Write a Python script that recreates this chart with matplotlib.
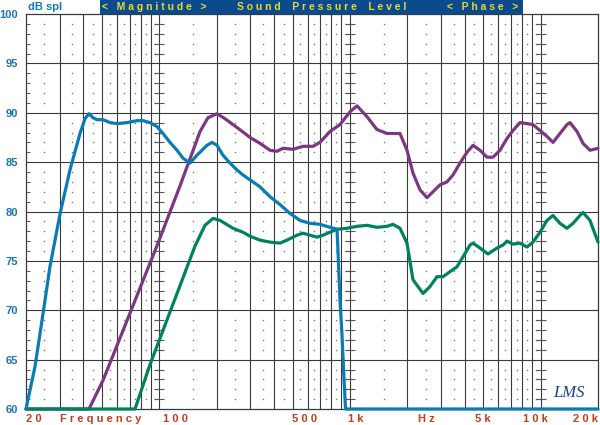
import matplotlib
matplotlib.use("Agg")
import matplotlib.pyplot as plt
from matplotlib.patches import Rectangle

# ---------------- data ----------------
woofer_f = [20, 22.3, 24.9, 26.7, 30.2, 34.0, 38.4, 40.8, 42.8, 44.9, 47.1, 50.7,
            55.2, 60.0, 67.7, 76.4, 82.2, 89.4, 97.3, 104.6, 113.8, 123.9, 133.2,
            144.9, 157.7, 177.9, 189.0, 200.8, 215.8, 235.0, 255.8, 274.9, 299.1,
            337.5, 380.8, 429.8, 484.9, 547.0, 617.3, 696.6, 786.0, 855.4, 865.7,
            887.0, 908.6, 930.9, 947.8, 20000]
woofer_db = [60, 64.3, 70.4, 74.4, 79.8, 84.2, 87.9, 89.4, 89.9, 89.5, 89.3, 89.3,
             89.0, 88.9, 89.0, 89.2, 89.2, 89.0, 88.6, 87.9, 87.0, 86.2, 85.4,
             84.9, 85.7, 86.7, 87.0, 86.7, 85.7, 84.9, 84.2, 83.7, 83.2,
             82.5, 81.5, 80.7, 79.8, 79.1, 78.8, 78.7, 78.4, 78.2, 76.0,
             71.0, 67.5, 63.0, 60.0, 60.0]

mid_f = [20, 42.8, 50.7, 70.2, 98.5, 128.5, 163.6, 180.1, 200.8, 221.1, 243.6,
         268.4, 299.1, 337.5, 380.8, 414.5, 445.7, 502.7, 567.4, 640.2, 696.6,
         786.0, 887.0, 1000.8, 1089, 1228.8, 1386.6, 1564.6, 1830, 1991.8, 2141,
         2330, 2536, 2727, 2968, 3229, 3471, 3778, 4111, 4420, 4810, 5234, 5628,
         6124, 6664, 7164, 7797, 8484, 9122, 9926, 10802, 11615, 12640, 13756,
         14262, 15520, 16688, 18157, 20000]
mid_db = [60, 60, 62.9, 69.7, 76.8, 82.6, 88.1, 89.5, 89.9, 89.4, 88.8,
          88.2, 87.5, 86.9, 86.2, 86.1, 86.4, 86.3, 86.6, 86.6, 87.0,
          88.1, 88.8, 90.1, 90.7, 89.6, 88.3, 87.9, 87.9, 86.2, 83.9,
          82.2, 81.4, 82.0, 82.7, 83.0, 83.7, 84.9, 86.0, 86.7, 86.2, 85.5, 85.5,
          86.2, 87.4, 88.2, 89.0, 88.9, 88.8, 88.2, 87.6, 87.0, 87.9, 88.8,
          89.0, 88.1, 86.9, 86.2, 86.4]

tw_f = [20, 74.6, 89.4, 107.2, 128.5, 154.0, 173.7, 191.4, 208.2, 243.6, 274.9,
        299.1, 337.5, 380.8, 429.8, 467.6, 527.6, 567.4, 617.3, 672.0, 722.5,
        786.0, 855.4, 965.3, 1089, 1228.8, 1386.6, 1564.6, 1682, 1830, 1991.8,
        2141, 2416, 2630, 2861, 3076, 3347, 3643, 3916, 4262, 4420, 4810, 5298,
        5906, 6350, 6664, 7164, 7797, 8484, 9122, 9926, 10802, 11615, 12640,
        13756, 14788, 16092, 16688, 18157, 20000]
tw_db = [60, 60, 64.5, 68.5, 72.5, 76.5, 78.6, 79.3, 79.1, 78.3, 77.9,
         77.5, 77.1, 76.9, 76.8, 77.1, 77.6, 77.8, 77.6, 77.4, 77.6,
         77.9, 78.2, 78.3, 78.5, 78.6, 78.4, 78.5, 78.7, 78.3, 76.8,
         73.1, 71.7, 72.4, 73.4, 73.4, 73.9, 74.4, 75.4, 76.6, 76.8, 76.3, 75.7,
         76.3, 76.6, 77.0, 76.7, 76.8, 76.4, 76.9, 77.9, 79.1, 79.6, 78.8,
         78.3, 78.8, 79.6, 79.9, 79.1, 76.9]

y_ticks = [60, 65, 70, 75, 80, 85, 90, 95, 100]
x_labels = ["20", "Frequency", "100", "500", "1k", "Hz", "5k", "10k", "20k"]
banner_labels = ["< Magnitude >", "Sound  Pressure  Level", "< Phase >"]
y_unit = "dB spl"

# ---------------- layout / style ----------------
W, H = 600, 425
x_label_px = [26, 60, 163, 292, 348, 418, 475, 523, 573]
banner_px = [102, 237, 447]
BLUE_TXT = "#1776b6"
RED_TXT = "#c23d1c"
GRID = "#3a3a3a"
FONT = "Liberation Sans"

def spaced(s):
    return " ".join(s)

fig = plt.figure(figsize=(W / 100, H / 100), dpi=100)
fig.patch.set_facecolor("white")
ax = fig.add_axes([26 / W, 16 / H, 572 / W, 395 / H])
ax.set_xscale("log")
ax.set_xlim(20, 20000)
ax.set_ylim(60, 100)
ax.set_facecolor("white")

# solid grid
solid_f = [k * 10 ** e for e in (1, 2, 3) for k in range(1, 10)] + [10000, 20000]
solid_f = [f for f in solid_f if 20 < f < 20000]
for f in solid_f:
    ax.axvline(f, color=GRID, lw=0.8, zorder=1)
for d in y_ticks[1:-1]:
    ax.axhline(d, color=GRID, lw=0.8, zorder=1)

# dotted grid (dots at every dB)
minor_db = [d for d in range(61, 100) if d % 5 != 0]
dotted_f = [(k + 0.5) * 10 ** e for e in (1, 2, 3) for k in range(1, 10)]
dotted_f = [f for f in dotted_f if 20 < f < 20000]
for f in dotted_f:
    ax.plot([f] * len(minor_db), minor_db, ls="none", marker="s", ms=1.0,
            mec="none", mfc="#777777", zorder=1)
for f in (100, 1000, 10000):
    ax.plot([f] * len(minor_db), minor_db, ls="none", marker="_", ms=7,
            mew=0.8, color="#555555", zorder=1)

for sp in ax.spines.values():
    sp.set_color(GRID)
    sp.set_linewidth(0.9)

# curves
ax.plot(mid_f, mid_db, color="#7d3782", lw=2.3, zorder=3, clip_on=False,
        solid_joinstyle="round", solid_capstyle="round")
ax.plot(tw_f, tw_db, color="#00835b", lw=2.3, zorder=4, clip_on=False,
        solid_joinstyle="round", solid_capstyle="round")
ax.plot(woofer_f, woofer_db, color="#0b7bb5", lw=2.3, zorder=5, clip_on=False,
        solid_joinstyle="round", solid_capstyle="round")

# y ticks
ax.set_yticks(y_ticks)
ax.set_yticklabels([str(v) for v in y_ticks], color=BLUE_TXT,
                   fontweight="bold", fontsize=8, family=FONT)
ax.set_yticks(minor_db, minor=True)
ax.tick_params(axis="y", which="major", length=0, pad=6)
ax.tick_params(axis="y", which="minor", direction="in", length=3,
               width=0.7, color="#555555")
ax.set_xticks([])
ax.set_xticks([], minor=True)

# x labels
for lab, px in zip(x_labels, x_label_px):
    fig.text(px / W, 1 - 419 / H, spaced(lab), color=RED_TXT, fontsize=8,
             fontweight="bold", family=FONT, ha="left", va="center")

# unit label
fig.text(28 / W, 1 - 7 / H, y_unit, color=BLUE_TXT, fontsize=8,
         fontweight="bold", family=FONT, ha="left", va="center")

# banner
fig.patches.append(Rectangle((100 / W, 1 - 14 / H), 423 / W, 14 / H,
                             transform=fig.transFigure, facecolor="#0b4a8c",
                             edgecolor="none", zorder=0))
for lab, px in zip(banner_labels, banner_px):
    fig.text(px / W, 1 - 7 / H, " ".join(lab.replace("  ", "\u0001")).replace("\u0001", "  "),
             color="#e6d835", fontsize=7.5,
             fontweight="bold", family=FONT, ha="left", va="center")

# logo
fig.text(553 / W, 1 - 393 / H, "LMS", color="#1a3f8f", fontsize=12,
         fontstyle="italic", family="Liberation Serif", ha="left", va="center")

fig.savefig("out.png", dpi=100)
